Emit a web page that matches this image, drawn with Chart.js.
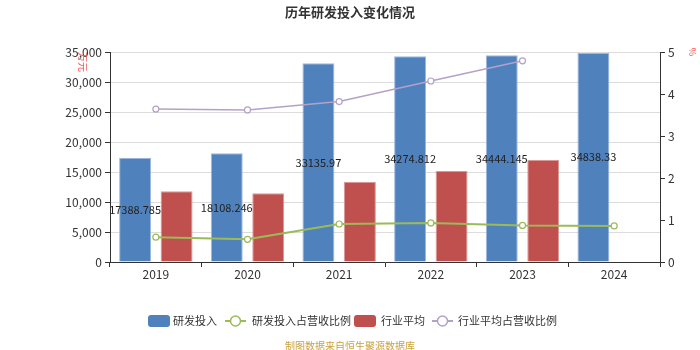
<!DOCTYPE html>
<html>
<head>
<meta charset="utf-8">
<script src="https://cdn.jsdelivr.net/npm/chart.js@4/dist/chart.umd.min.js"></script>
<style>
html,body{margin:0;padding:0;background:#fff;}
#wrap{width:700px;height:350px;position:relative;}
</style>
</head>
<body>
<div id="wrap"><canvas id="c" width="700" height="350"></canvas></div>
<script>
const categories = ['2019','2020','2021','2022','2023','2024'];
const rdInvest = [17388.785, 18108.246, 33135.97, 34274.812, 34444.145, 34838.33];
const rdRatio = [0.59, 0.54, 0.905, 0.93, 0.87, 0.86];
const industryAvg = [11800, 11450, 13380, 15170, 17000, null];
const industryRatio = [3.64, 3.62, 3.82, 4.31, 4.79, null];
const leftTicks = [0, 35000, 5000];
const rightTicks = [0, 5, 1];
const titleText = '历年研发投入变化情况';
const unitLeft = '万元';
const unitRight = '%';
const footerText = '制图数据来自恒生聚源数据库';

const FONT = '"Microsoft YaHei","Noto Sans CJK SC","Noto Sans",sans-serif';
const BLUE = '#4f81bd', RED = '#c0504d', GREEN = '#9bbb59', PURPLE = '#b3a2c7';

const decor = {
  id: 'decor',
  afterDatasetsDraw(chart) {
    const ctx = chart.ctx;
    const meta = chart.getDatasetMeta(0);
    ctx.save();
    ctx.font = '11px ' + FONT;
    ctx.fillStyle = '#222';
    ctx.textAlign = 'center';
    ctx.textBaseline = 'middle';
    meta.data.forEach((el, i) => {
      const v = chart.data.datasets[0].data[i];
      if (v == null) return;
      ctx.fillText(String(v), el.x, (el.y + el.base) / 2);
    });
    ctx.restore();
  },
  afterDraw(chart) {
    const ctx = chart.ctx;
    ctx.save();
    ctx.font = 'bold 13px ' + FONT;
    ctx.fillStyle = '#333';
    ctx.textAlign = 'center';
    ctx.textBaseline = 'middle';
    ctx.fillText(titleText, 350, 12);
    ctx.fillStyle = '#ff4d4d';
    ctx.font = '10px ' + FONT;
    ctx.save();
    ctx.translate(83, 62);
    ctx.rotate(Math.PI / 2);
    ctx.fillText(unitLeft, 0, 0);
    ctx.restore();
    ctx.save();
    ctx.translate(692, 52);
    ctx.rotate(Math.PI / 2);
    ctx.font = '9px ' + FONT;
    ctx.fillText(unitRight, 0, 0);
    ctx.restore();
    const ly = 321;
    ctx.font = '11px ' + FONT;
    ctx.textAlign = 'left';
    ctx.textBaseline = 'middle';
    const items = [
      {type:'bar', color:BLUE, x:148, tx:173, label: chart.data.datasets[0].label},
      {type:'line', color:GREEN, x:225, tx:252, label: chart.data.datasets[1].label},
      {type:'bar', color:RED, x:354, tx:381, label: chart.data.datasets[2].label},
      {type:'line', color:PURPLE, x:432, tx:458, label: chart.data.datasets[3].label}
    ];
    items.forEach(it => {
      if (it.type === 'bar') {
        ctx.fillStyle = it.color;
        ctx.beginPath();
        if (ctx.roundRect) ctx.roundRect(it.x, ly - 6, 22, 12, 3); else ctx.rect(it.x, ly - 6, 22, 12);
        ctx.fill();
      } else {
        ctx.strokeStyle = it.color;
        ctx.lineWidth = 2;
        ctx.beginPath();
        ctx.moveTo(it.x, ly); ctx.lineTo(it.x + 21, ly);
        ctx.stroke();
        ctx.beginPath();
        ctx.arc(it.x + 10.5, ly, 5, 0, Math.PI * 2);
        ctx.fillStyle = '#fff';
        ctx.fill();
        ctx.lineWidth = 1.5;
        ctx.stroke();
      }
      ctx.fillStyle = '#333';
      ctx.fillText(it.label, it.tx, ly);
    });
    ctx.font = '10px ' + FONT;
    ctx.fillStyle = '#c9a13c';
    ctx.textAlign = 'center';
    ctx.fillText(footerText, 350, 346);
    ctx.restore();
  }
};

new Chart(document.getElementById('c'), {
  data: {
    labels: categories,
    datasets: [
      {type:'bar', label:'研发投入', data: rdInvest, backgroundColor: BLUE, borderColor:'#9db8dd', borderWidth:{left:1,right:1,top:1,bottom:0}, yAxisID:'y', order:2, categoryPercentage:0.905, barPercentage:0.77},
      {type:'line', label:'研发投入占营收比例', data: rdRatio, borderColor: GREEN, backgroundColor:'#fff', borderWidth:2, pointRadius:3, pointBorderWidth:1.2, pointBackgroundColor:'#fff', pointBorderColor: GREEN, yAxisID:'y1', order:0, tension:0},
      {type:'bar', label:'行业平均', data: industryAvg, backgroundColor: RED, borderColor:'#dc9896', borderWidth:{left:1,right:1,top:1,bottom:0}, yAxisID:'y', order:2, categoryPercentage:0.905, barPercentage:0.77},
      {type:'line', label:'行业平均占营收比例', data: industryRatio, borderColor: PURPLE, backgroundColor:'#fff', borderWidth:1.5, pointRadius:3, pointBorderWidth:1.2, pointBackgroundColor:'#fff', pointBorderColor: PURPLE, yAxisID:'y1', order:0, tension:0}
    ]
  },
  options: {
    responsive:false,
    animation:false,
    devicePixelRatio:1,
    layout:{padding:{left:0,right:0,top:52,bottom:60}},
    plugins:{legend:{display:false}, tooltip:{enabled:false}, title:{display:false}},
    scales:{
      x:{
        offset:true,
        grid:{display:true, drawOnChartArea:false, drawTicks:true, tickLength:5, offset:true, color:'#333'},
        border:{display:true, color:'#333'},
        ticks:{color:'#333', font:{size:12, family:FONT}, padding:0},
        afterFit(s){ s.height = 28; }
      },
      y:{
        position:'left',
        min:leftTicks[0], max:leftTicks[1],
        ticks:{stepSize:leftTicks[2], color:'#333', font:{size:12, family:FONT}, padding:3},
        grid:{color:'#dcdcdc', tickColor:'#333', tickLength:5, drawTicks:true},
        border:{display:true, color:'#333'},
        afterFit(s){ s.width = 110; }
      },
      y1:{
        position:'right',
        min:rightTicks[0], max:rightTicks[1],
        ticks:{stepSize:rightTicks[2], color:'#333', font:{size:12, family:FONT}, padding:3},
        grid:{drawOnChartArea:false, color:'#333', tickLength:5, drawTicks:true},
        border:{display:true, color:'#333'},
        afterFit(s){ s.width = 40; }
      }
    }
  },
  plugins:[decor]
});
</script>
</body>
</html>
